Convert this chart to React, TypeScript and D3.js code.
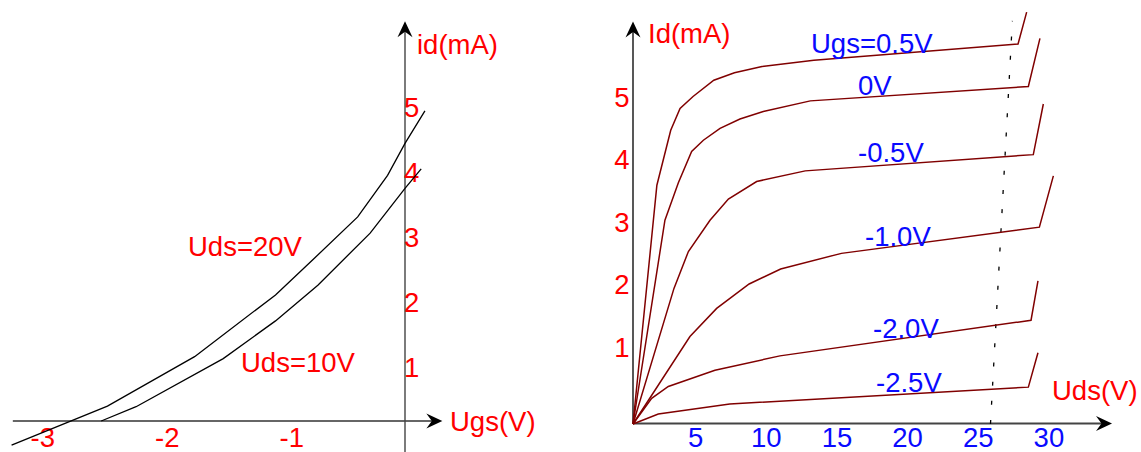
import React from "react";
import * as d3 from "d3";

// ---------- Left chart: transfer characteristic id vs Ugs ----------
const leftXTicks = [-3, -2, -1];
const leftYTicks = [1, 2, 3, 4, 5];
const ugsUds20 = [-3.16, -2.39, -1.69, -1.04, -0.73, -0.38, -0.14, 0, 0.16];
const idUds20 = [-0.37, 0.23, 0.99, 1.94, 2.5, 3.14, 3.78, 4.27, 4.77];
const ugsUds10 = [-2.44, -2.16, -1.46, -1.04, -0.7, -0.28, 0, 0.13];
const idUds10 = [0.0, 0.22, 0.96, 1.54, 2.09, 2.89, 3.58, 3.88];
const leftCurveLabels = ["Uds=20V", "Uds=10V"];

// ---------- Right chart: output characteristic Id vs Uds ----------
const rightXTicks = [5, 10, 15, 20, 25, 30];
const rightYTicks = [1, 2, 3, 4, 5];
const udsG05 = [0, 1.69, 2.67, 3.33, 4.25, 5.72, 7.18, 9.13, 12.8, 27.25, 27.86];
const idG05 = [0, 3.82, 4.7, 5.05, 5.24, 5.5, 5.62, 5.72, 5.82, 6.08, 6.59];
const udsG0 = [0, 2.26, 3.21, 4.15, 4.98, 6.16, 7.57, 9.22, 12.55, 27.98, 28.8];
const idG0 = [0, 3.26, 3.86, 4.36, 4.54, 4.73, 4.88, 5.0, 5.17, 5.4, 6.17];
const udsGm05 = [0, 2.9, 3.92, 5.45, 6.75, 8.75, 12.19, 28.33, 29.04];
const idGm05 = [0, 2.17, 2.76, 3.26, 3.6, 3.88, 4.05, 4.31, 5.12];
const udsGm10 = [0, 4.03, 5.92, 8.22, 10.45, 14.75, 28.76, 29.75];
const idGm10 = [0, 1.4, 1.85, 2.24, 2.48, 2.73, 3.15, 3.97];
const udsGm20 = [0, 1.32, 2.5, 5.8, 10.4, 28.17, 28.66];
const idGm20 = [0, 0.41, 0.6, 0.86, 1.09, 1.66, 2.29];
const udsGm25 = [0, 1.79, 6.85, 27.98, 28.66];
const idGm25 = [0, 0.16, 0.32, 0.59, 1.14];
const rightCurveLabels = ["Ugs=0.5V", "0V", "-0.5V", "-1.0V", "-2.0V", "-2.5V"];
const pinchUds = [25.3, 26.85];
const pinchId = [0, 6.45];

const FONT = "'Liberation Sans', Arial, Helvetica, sans-serif";
const FS = 27.5;
const RED = "#ff0000";
const BLUE = "#0a0aff";
const CURVE = "#800000";

function zip(xs: number[], ys: number[]): [number, number][] {
  return xs.map((x, i) => [x, ys[i]] as [number, number]);
}

function arrowRight(x: number, y: number) {
  return `M${x},${y} L${x - 16},${y - 7.5} L${x - 10.5},${y} L${x - 16},${y + 7.5} Z`;
}
function arrowUp(x: number, y: number) {
  return `M${x},${y} L${x - 7.5},${y + 16} L${x},${y + 10.5} L${x + 7.5},${y + 16} Z`;
}

export default function App() {
  // Left scales
  const xL = d3.scaleLinear().domain([-3, 0]).range([31.5, 405]);
  const yL = d3.scaleLinear().domain([0, 5]).range([421, 96]);
  // Right scales
  const xR = d3.scaleLinear().domain([0, 30]).range([633, 1056.9]);
  const yR = d3.scaleLinear().domain([0, 5]).range([424, 111.5]);

  const lineL = d3
    .line<[number, number]>()
    .x((d) => xL(d[0]))
    .y((d) => yL(d[1]));
  const lineR = d3
    .line<[number, number]>()
    .x((d) => xR(d[0]))
    .y((d) => yR(d[1]));

  const rightSeries = [
    zip(udsG05, idG05),
    zip(udsG0, idG0),
    zip(udsGm05, idGm05),
    zip(udsGm10, idGm10),
    zip(udsGm20, idGm20),
    zip(udsGm25, idGm25),
  ];
  const rightLabelPos: [number, number][] = [
    [811, 53],
    [858, 95],
    [858, 161.5],
    [865, 246],
    [873, 338],
    [876, 391.5],
  ];

  const lxEnd = xL(0.3);
  const lyTop = yL(6.15);
  const rxEnd = xR(33.9);
  const ryTop = yR(6.44);

  return (
    <svg
      width={1141}
      height={452}
      style={{ position: "absolute", left: 0, top: 0, background: "#fff" }}
      fontFamily={FONT}
    >
      <rect x={0} y={0} width={1141} height={452} fill="#fff" />

      {/* ---------------- Left chart ---------------- */}
      <line x1={xL(-3.15)} y1={yL(0)} x2={lxEnd - 4} y2={yL(0)} stroke="#333" strokeWidth={1.5} />
      <path d={arrowRight(lxEnd, yL(0))} fill="#000" />
      <line x1={xL(0)} y1={452} x2={xL(0)} y2={lyTop + 4} stroke="#444" strokeWidth={1.4} />
      <path d={arrowUp(xL(0), lyTop)} fill="#000" />

      {leftXTicks.map((t) => (
        <text key={"lx" + t} x={xL(t) - 1} y={446.5} fontSize={FS} fill={RED}>
          {t}
        </text>
      ))}
      {leftYTicks.map((t) => (
        <text key={"ly" + t} x={xL(0) - 1} y={yL(t) + 21} fontSize={FS} fill={RED}>
          {t}
        </text>
      ))}
      <text x={417} y={54} fontSize={FS} fill={RED}>
        id(mA)
      </text>
      <text x={450} y={431} fontSize={FS} fill={RED}>
        Ugs(V)
      </text>

      <path d={lineL(zip(ugsUds20, idUds20)) || ""} fill="none" stroke="#000" strokeWidth={1.3} />
      <path d={lineL(zip(ugsUds10, idUds10)) || ""} fill="none" stroke="#000" strokeWidth={1.3} />
      <text x={188} y={256} fontSize={FS} fill={RED}>
        {leftCurveLabels[0]}
      </text>
      <text x={241} y={371.5} fontSize={FS} fill={RED}>
        {leftCurveLabels[1]}
      </text>

      {/* ---------------- Right chart ---------------- */}
      <line x1={xR(0)} y1={yR(0) - 0.5} x2={rxEnd - 4} y2={yR(0) - 0.5} stroke="#444" strokeWidth={2} />
      <path d={arrowRight(rxEnd, yR(0) - 0.5)} fill="#000" />
      <line x1={xR(0)} y1={yR(0)} x2={xR(0)} y2={ryTop + 4} stroke="#111" strokeWidth={1.4} />
      <path d={arrowUp(xR(0), ryTop)} fill="#000" />

      {rightXTicks.map((t) => (
        <text key={"rx" + t} x={xR(t) - 8} y={446.5} fontSize={FS} fill={BLUE} textAnchor="middle">
          {t}
        </text>
      ))}
      {rightYTicks.map((t) => (
        <text key={"ry" + t} x={622} y={yR(t) - 5} fontSize={FS} fill={RED} textAnchor="middle">
          {t}
        </text>
      ))}
      <text x={648} y={43} fontSize={FS} fill={RED}>
        Id(mA)
      </text>
      <text x={1052} y={399.5} fontSize={FS} fill={RED}>
        Uds(V)
      </text>

      <path
        d={lineR(zip(pinchUds, pinchId)) || ""}
        fill="none"
        stroke="#000"
        strokeWidth={1.3}
        strokeDasharray="4 15.2"
      />

      {rightSeries.map((s, i) => (
        <path key={"rs" + i} d={lineR(s) || ""} fill="none" stroke={CURVE} strokeWidth={1.5} />
      ))}
      {rightCurveLabels.map((l, i) => (
        <text key={"rl" + i} x={rightLabelPos[i][0]} y={rightLabelPos[i][1]} fontSize={FS} fill={BLUE}>
          {l}
        </text>
      ))}
    </svg>
  );
}
